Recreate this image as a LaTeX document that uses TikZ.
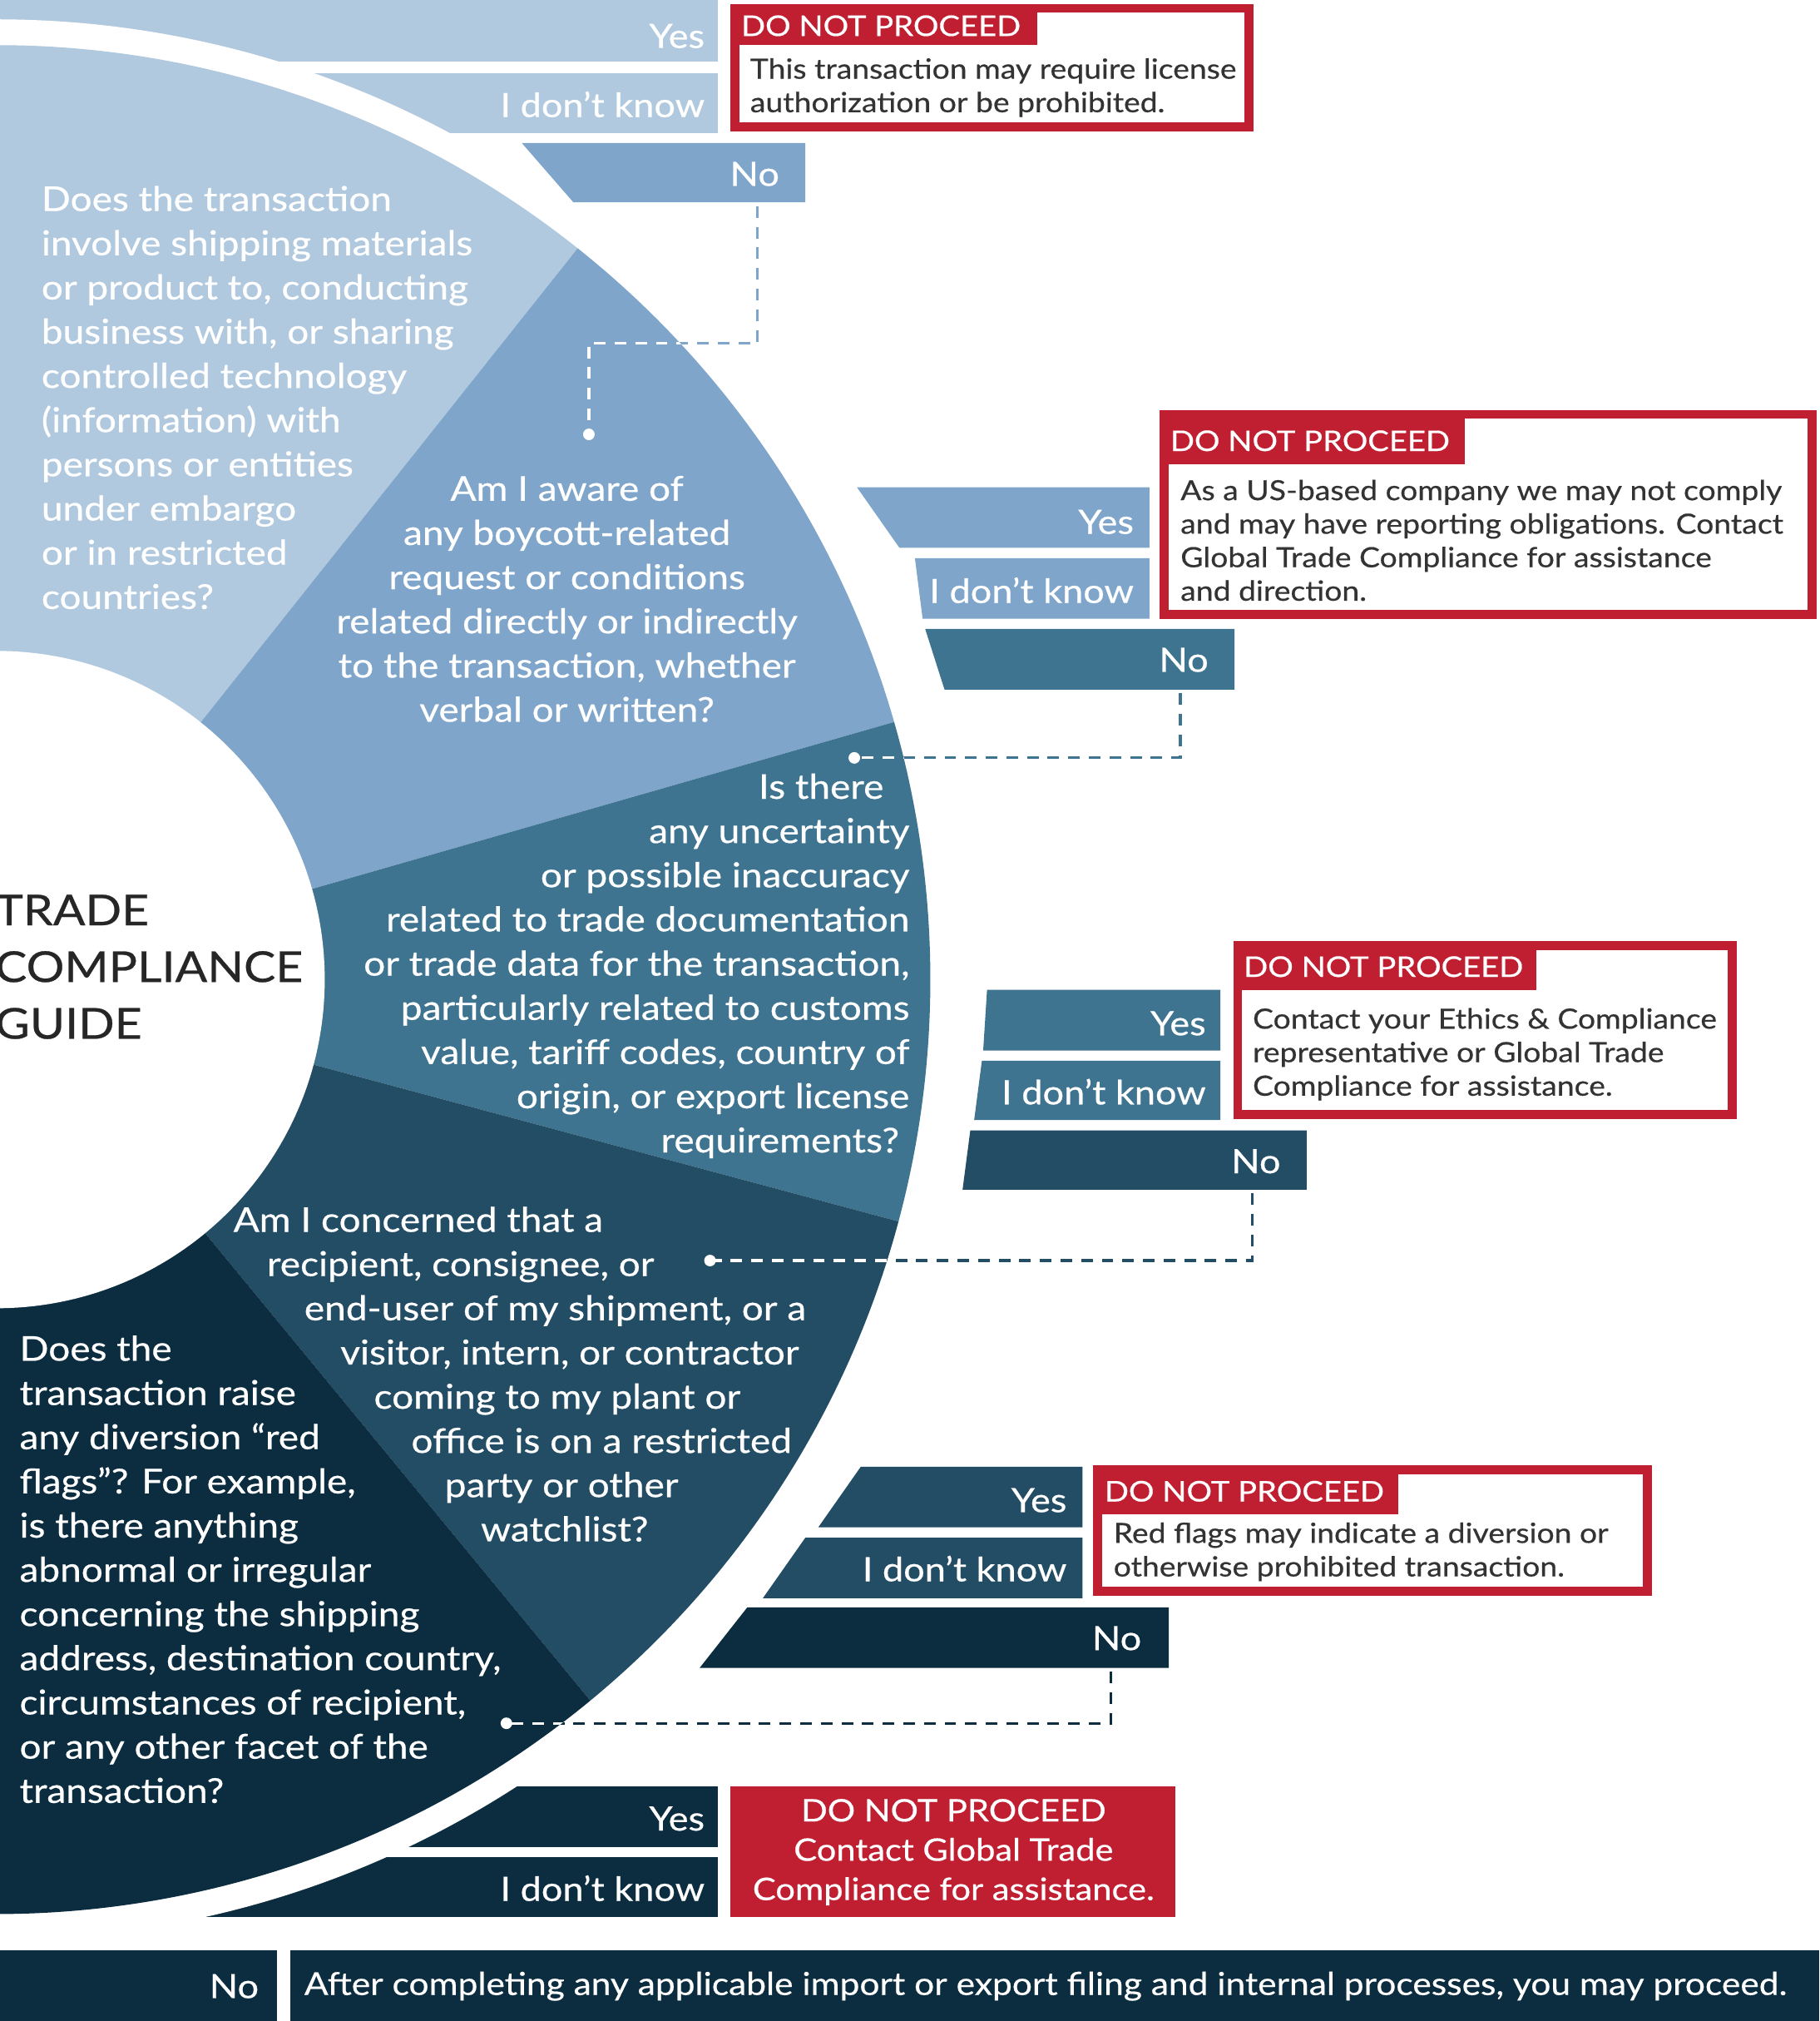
\documentclass[tikz,border=0pt]{standalone}
\usepackage{fontspec}
\setmainfont{Lato}[FakeStretch=1.12,FakeBold=0.5]
\definecolor{ca}{HTML}{B1C9DF}
\definecolor{cb}{HTML}{7FA6CA}
\definecolor{cc}{HTML}{3E7490}
\definecolor{cd}{HTML}{234D64}
\definecolor{ce}{HTML}{0B2D3F}
\definecolor{rd}{HTML}{C01F31}
\definecolor{tx}{HTML}{333333}
\tikzset{
 blab/.style={text=white,anchor=east,inner sep=0pt,font=\fontsize{26}{30}\selectfont},
 qtext/.style={text=white,inner sep=0pt,font=\fontsize{26.5}{34.3}\selectfont},
 rbox/.style={draw=rd,line width=7pt},
 rhead/.style={text=white,anchor=west,inner sep=0pt,font=\fontsize{22}{26}\selectfont},
 rtext/.style={text=tx,anchor=north west,inner sep=0pt,align=left,font=\fontsize{21.5}{26}\selectfont},
 conn/.style={dashed,dash pattern=on 9pt off 7pt,line width=2pt},
 dotm/.style={circle,fill=white,inner sep=0pt,minimum size=9pt}
}
\begin{document}
\begin{tikzpicture}[x=1pt,y=-1pt]
\useasboundingbox (0,0) rectangle (1412,1568);
\clip (0,0) rectangle (1412,1568);
\coordinate (C) at (-3,760);
% group 1 bars
\fill[ca] (0,0) rectangle (557,48);
\fill[ca] (0,57) rectangle (557,103);
\fill[cb] (405,111) -- (625,111) -- (625,157) -- (445,157) -- cycle;
% group 5 bars
\fill[ce] (0,1386) rectangle (557,1433);
\fill[ce] (0,1441) rectangle (557,1487);
% white ring
\fill[white] (C) circle[radius=745];
% sectors
\fill[ca] (C) -- ++(-51.5:725) arc[start angle=-51.5,end angle=-180,radius=725] -- cycle;
\fill[cb] (C) -- ++(-16:725) arc[start angle=-16,end angle=-51.5,radius=725] -- cycle;
\fill[cc] (C) -- ++(15:725) arc[start angle=15,end angle=-16,radius=725] -- cycle;
\fill[cd] (C) -- ++(50.5:725) arc[start angle=50.5,end angle=15,radius=725] -- cycle;
\fill[ce] (C) -- ++(180:725) arc[start angle=180,end angle=50.5,radius=725] -- cycle;
\fill[white] (C) circle[radius=255];
% group 2-4 bars
\fill[cb] (665,378) -- (892,378) -- (892,425) -- (698,425) -- cycle;
\fill[cb] (710,433) -- (892,433) -- (892,480) -- (716,480) -- cycle;
\fill[cc] (718,488) -- (958,488) -- (958,535) -- (733,535) -- cycle;
\fill[cc] (766,768) -- (947,768) -- (947,815) -- (763,815) -- cycle;
\fill[cc] (762,823) -- (947,823) -- (947,869) -- (756,869) -- cycle;
\fill[cd] (753,877) -- (1014,877) -- (1014,923) -- (747,923) -- cycle;
\fill[cd] (668,1138) -- (840,1138) -- (840,1185) -- (635,1185) -- cycle;
\fill[cd] (625,1193) -- (840,1193) -- (840,1240) -- (592,1240) -- cycle;
\fill[ce] (580,1247) -- (907,1247) -- (907,1294) -- (543,1294) -- cycle;
\fill[ce] (0,1513) rectangle (215,1568);
\fill[ce] (225,1513) rectangle (1412,1568);
% bar labels
\node[blab] (y1) at (547,28) {Yes};
\node[blab] (k1) at (547,81) {I don’t know};
\node[blab] (n1) at (605,135) {No};
\node[blab] (y2) at (880,405) {Yes};
\node[blab] (k2) at (880,458) {I don’t know};
\node[blab] (n2) at (938,512) {No};
\node[blab] (y3) at (936,794) {Yes};
\node[blab] (k3) at (936,847) {I don’t know};
\node[blab] (n3) at (994,901) {No};
\node[blab] (y4) at (828,1164) {Yes};
\node[blab] (k4) at (828,1217) {I don’t know};
\node[blab] (n4) at (886,1271) {No};
\node[blab] (y5) at (547,1411) {Yes};
\node[blab] (k5) at (547,1465) {I don’t know};
\node[blab] (n5) at (201,1541) {No};
\node[blab,anchor=west,font=\fontsize{24.5}{30}\selectfont] (fin) at (236,1541) {After completing any applicable import or export filing and internal processes, you may proceed.};
% title
\node[anchor=north west,inner sep=0pt,align=left,text=black!85,font=\fontsize{33}{44}\selectfont] (title) at (-4,694) {TRADE\\COMPLIANCE\\GUIDE};
% questions
\node[qtext,anchor=north west,align=left] (q1) at (32,144) {Does the transaction\\involve shipping materials\\or product to, conducting\\business with, or sharing\\controlled technology\\(information) with\\persons or entities\\under embargo\\or in restricted\\countries?};
\node[qtext,anchor=north,align=center] (q2) at (440,369) {Am I aware of\\any boycott-related\\request or conditions\\related directly or indirectly\\to the transaction, whether\\verbal or written?};
\node[qtext,anchor=north east,align=right] (q3) at (706,600) {Is there\hspace*{20pt}\\any uncertainty\\or possible inaccuracy\hspace*{12pt}\\related to trade documentation\hspace*{6pt}\\or trade data for the transaction,\\particularly related to customs\hspace*{14pt}\\value, tariff codes, country of\hspace*{22pt}\\origin, or export license\\requirements?\hspace*{8pt}};
\node[qtext,anchor=north west,align=left] (q4) at (181,936) {Am I concerned that a\\\hspace*{26pt}recipient, consignee, or\\\hspace*{55pt}end-user of my shipment, or a\\\hspace*{83pt}visitor, intern, or contractor\\\hspace*{109pt}coming to my plant or\\\hspace*{138pt}office is on a restricted\\\hspace*{164pt}party or other\\\hspace*{192pt}watchlist?};
\node[qtext,anchor=north west,align=left] (q5) at (15,1036) {Does the\\transaction raise\\any diversion “red\\flags”? For example,\\is there anything\\abnormal or irregular\\concerning the shipping\\address, destination country,\\circumstances of recipient,\\or any other facet of the\\transaction?};
% red boxes
\draw[rbox] (570.5,6.5) rectangle (969.5,98.5);
\fill[rd] (567,3) rectangle (805,35);
\node[rhead] (h1) at (575,20) {DO NOT PROCEED};
\node[rtext] (t1) at (582,45) {This transaction may require license\\authorization or be prohibited.};
\draw[rbox] (903.5,321.5) rectangle (1406.5,476.5);
\fill[rd] (900,318) rectangle (1137,360);
\node[rhead] (h2) at (908,342) {DO NOT PROCEED};
\node[rtext] (t2) at (916,372) {As a US-based company we may not comply\\and may have reporting obligations. Contact\\Global Trade Compliance for assistance\\and direction.};
\draw[rbox] (960.5,733.5) rectangle (1344.5,864.5);
\fill[rd] (957,730) rectangle (1192,768);
\node[rhead] (h3) at (965,750) {DO NOT PROCEED};
\node[rtext] (t3) at (972,782) {Contact your Ethics \& Compliance\\representative or Global Trade\\Compliance for assistance.};
\draw[rbox] (851.5,1140.5) rectangle (1278.5,1234.5);
\fill[rd] (848,1137) rectangle (1085,1175);
\node[rhead] (h4) at (857,1157) {DO NOT PROCEED};
\node[rtext] (t4) at (864,1181) {Red flags may indicate a diversion or\\otherwise prohibited transaction.};
\fill[rd] (567,1386) rectangle (912,1487);
\node[text=white,align=center,inner sep=0pt,font=\fontsize{24}{30.5}\selectfont] (t5) at (740,1437) {DO NOT PROCEED\\Contact Global Trade\\Compliance for assistance.};
% connectors
\coordinate (s1) at (588,160); \coordinate (d1) at (457,337);
\coordinate (s2) at (916,538); \coordinate (d2) at (663,588);
\coordinate (s3) at (972,926); \coordinate (d3) at (551,978);
\coordinate (s4) at (862,1297); \coordinate (d4) at (393,1337);
\draw[conn,cb] (s1) -- (s1|-0,266) -- (d1|-0,266) -- (d1);
\draw[conn,cc] (s2) -- (s2|-d2) -- (d2);
\draw[conn,cd] (s3) -- (s3|-d3) -- (d3);
\draw[conn,ce] (s4) -- (s4|-d4) -- (d4);
\begin{scope}
\clip (C) circle[radius=725];
\draw[conn,white] (s1) -- (s1|-0,266) -- (d1|-0,266) -- (d1);
\draw[conn,white] (s2) -- (s2|-d2) -- (d2);
\draw[conn,white] (s3) -- (s3|-d3) -- (d3);
\draw[conn,white] (s4) -- (s4|-d4) -- (d4);
\end{scope}
\node[dotm] (p1) at (d1) {};
\node[dotm] (p2) at (d2) {};
\node[dotm] (p3) at (d3) {};
\node[dotm] (p4) at (d4) {};
\end{tikzpicture}
\end{document}
